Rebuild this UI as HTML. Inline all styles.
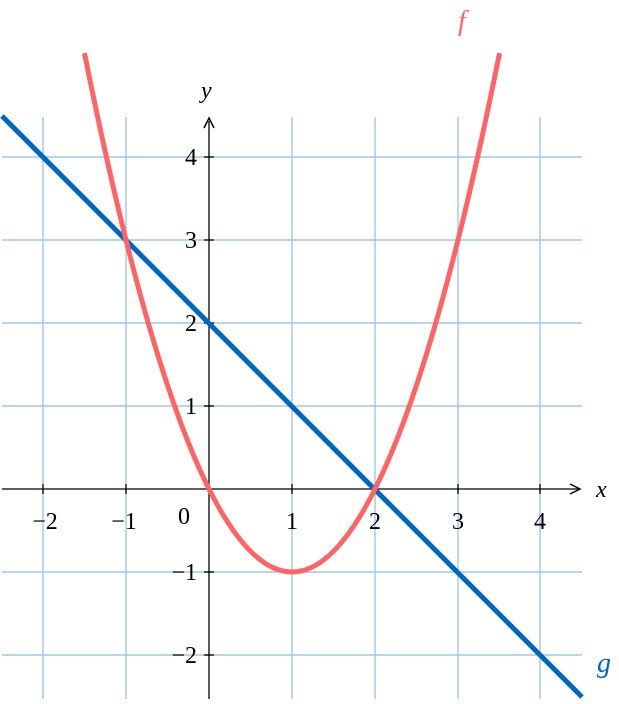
<!DOCTYPE html>
<html><head><meta charset="utf-8"><style>html,body{margin:0;padding:0;background:#fff}</style></head>
<body>
<svg width="619" height="699" viewBox="0 0 619 699" xmlns="http://www.w3.org/2000/svg" font-family="Liberation Serif, serif" font-size="24">
<g stroke="#9cc8ea" stroke-width="1.4">
<line x1="43" y1="117" x2="43" y2="699"/><line x1="126" y1="117" x2="126" y2="699"/>
<line x1="292" y1="117" x2="292" y2="699"/><line x1="375" y1="117" x2="375" y2="699"/>
<line x1="458" y1="117" x2="458" y2="699"/><line x1="540" y1="117" x2="540" y2="699"/>
<line x1="2" y1="157" x2="582" y2="157"/><line x1="2" y1="240" x2="582" y2="240"/>
<line x1="2" y1="323" x2="582" y2="323"/><line x1="2" y1="406" x2="582" y2="406"/>
<line x1="2" y1="572" x2="582" y2="572"/><line x1="2" y1="655" x2="582" y2="655"/>
</g>
<g stroke="#000" stroke-width="1.3" fill="none">
<line x1="2" y1="489" x2="578" y2="489"/><line x1="209" y1="699" x2="209" y2="121"/>
<path d="M570,484 L580,489 L570,494" stroke-width="1.5"/>
<path d="M204,128 L209,118 L214,128" stroke-width="1.5"/>
<g>
<line x1="43" y1="484" x2="43" y2="494"/><line x1="126" y1="484" x2="126" y2="494"/>
<line x1="292" y1="484" x2="292" y2="494"/><line x1="375" y1="484" x2="375" y2="494"/>
<line x1="458" y1="484" x2="458" y2="494"/><line x1="540" y1="484" x2="540" y2="494"/>
<line x1="204" y1="157" x2="214" y2="157"/><line x1="204" y1="240" x2="214" y2="240"/>
<line x1="204" y1="323" x2="214" y2="323"/><line x1="204" y1="406" x2="214" y2="406"/>
<line x1="204" y1="572" x2="214" y2="572"/><line x1="204" y1="655" x2="214" y2="655"/>
</g></g>
<polyline fill="none" stroke="#0066c4" stroke-width="5" points="2,116 582,697"/>
<path fill="none" stroke="#ff6464" stroke-width="5" d="M84.5,53.25 Q292,1090.75 499.5,53.25"/>
<g text-anchor="middle">
<text x="45" y="529">−2</text><text x="124" y="529">−1</text>
<text x="292" y="529">1</text><text x="375" y="529">2</text>
<text x="458" y="529">3</text><text x="540" y="529">4</text>
<text x="184" y="524">0</text>
</g>
<g text-anchor="end">
<text x="197" y="165">4</text><text x="197" y="248">3</text>
<text x="197" y="331">2</text><text x="197" y="414">1</text>
<text x="197" y="580">−1</text><text x="197" y="663">−2</text>
</g>
<text x="596" y="497" font-style="italic">x</text>
<text x="201" y="98" font-style="italic">y</text>
<text x="458" y="30" font-style="italic" fill="#ff6464" font-size="28">f</text>
<text x="597" y="672" font-style="italic" fill="#0066c4" font-size="28">g</text>
</svg>
</body></html>
